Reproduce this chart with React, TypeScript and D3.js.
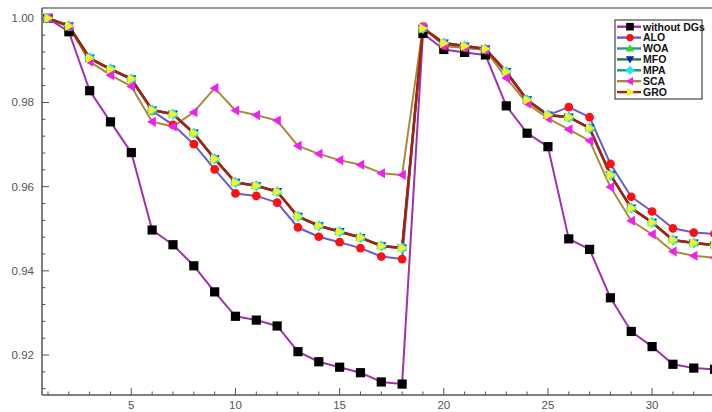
import React, { useEffect, useRef } from 'react';
import * as d3 from 'd3';

const buses = d3.range(1, 34);

const withoutDGs = [1.0, 0.9968, 0.9828, 0.9754, 0.9681, 0.9497, 0.9462, 0.9412, 0.935, 0.9292, 0.9283,
  0.9269, 0.9208, 0.9184, 0.9171, 0.9158, 0.9136, 0.9131, 0.9964, 0.9926, 0.9919, 0.9913,
  0.9792, 0.9727, 0.9695, 0.9476, 0.9451, 0.9336, 0.9256, 0.922, 0.9178, 0.9169, 0.9166];

const alo = [1.0, 0.998, 0.9905, 0.9878, 0.9855, 0.978, 0.9747, 0.9701, 0.9641, 0.9584, 0.9578,
  0.9562, 0.9503, 0.9481, 0.9468, 0.9454, 0.9434, 0.9428, 0.998, 0.9935, 0.993, 0.9925,
  0.987, 0.9805, 0.977, 0.9789, 0.9765, 0.9654, 0.9576, 0.9541, 0.9501, 0.9491, 0.9488];

const woa = [1.0, 0.9982, 0.9906, 0.988, 0.9857, 0.9783, 0.9773, 0.9728, 0.9667, 0.9611, 0.9603,
  0.9589, 0.953, 0.9508, 0.9494, 0.948, 0.946, 0.9455, 0.9977, 0.9942, 0.9935, 0.9928,
  0.9874, 0.9807, 0.9771, 0.9766, 0.974, 0.9629, 0.955, 0.9516, 0.9474, 0.9467, 0.9462];

const mfo = [1.0, 0.9982, 0.9905, 0.9879, 0.9856, 0.9782, 0.9772, 0.9727, 0.9666, 0.961, 0.9602,
  0.9588, 0.9529, 0.9507, 0.9493, 0.9479, 0.9459, 0.9454, 0.9976, 0.9941, 0.9934, 0.9927,
  0.9873, 0.9806, 0.977, 0.9765, 0.9739, 0.9628, 0.9549, 0.9515, 0.9473, 0.9466, 0.9461];

const mpa = [1.0, 0.9982, 0.9906, 0.988, 0.9856, 0.9782, 0.9772, 0.9727, 0.9666, 0.961, 0.9602,
  0.9588, 0.9529, 0.9507, 0.9493, 0.9479, 0.9459, 0.9454, 0.9976, 0.9941, 0.9934, 0.9927,
  0.9873, 0.9806, 0.977, 0.9765, 0.9739, 0.9628, 0.9549, 0.9515, 0.9473, 0.9466, 0.9461];

const sca = [1.0, 0.998, 0.9897, 0.9865, 0.9838, 0.9754, 0.9743, 0.9777, 0.9834, 0.9781, 0.977,
  0.9757, 0.9697, 0.9678, 0.9663, 0.9652, 0.9632, 0.9628, 0.998, 0.9935, 0.993, 0.9925,
  0.9858, 0.9798, 0.9762, 0.9736, 0.9709, 0.9599, 0.9519, 0.9487, 0.9446, 0.9436, 0.9431];

const gro = [1.0, 0.9982, 0.9905, 0.9879, 0.9856, 0.9782, 0.9772, 0.9727, 0.9666, 0.961, 0.9602,
  0.9588, 0.9529, 0.9507, 0.9493, 0.9479, 0.9459, 0.9454, 0.9976, 0.9941, 0.9934, 0.9927,
  0.9873, 0.9806, 0.977, 0.9765, 0.9739, 0.9628, 0.9549, 0.9515, 0.9473, 0.9466, 0.9461];

const xTicks = [5, 10, 15, 20, 25, 30];
const yTicks = [0.92, 0.94, 0.96, 0.98, 1.0];

const series = [
  { name: 'without DGs', values: withoutDGs, line: '#a030b0', fill: '#000000', marker: 'square', lw: 2 },
  { name: 'ALO', values: alo, line: '#6a5ad0', fill: '#ff1010', marker: 'circle', lw: 2 },
  { name: 'WOA', values: woa, line: '#2f8f9a', fill: '#20e020', marker: 'up', lw: 2 },
  { name: 'MFO', values: mfo, line: '#1f7a4a', fill: '#1020c0', marker: 'down', lw: 2 },
  { name: 'MPA', values: mpa, line: '#14a070', fill: '#20e8f0', marker: 'diamond', lw: 2 },
  { name: 'SCA', values: sca, line: '#a88a3a', fill: '#f020f0', marker: 'left', lw: 2 },
  { name: 'GRO', values: gro, line: '#a82010', fill: '#f8f020', marker: 'right', lw: 2.6 },
];

const markerPath = (type, s) => {
  switch (type) {
    case 'square': return `M${-s},${-s}h${2 * s}v${2 * s}h${-2 * s}Z`;
    case 'up': return `M0,${-s * 1.1}L${s * 1.1},${s * 0.8}L${-s * 1.1},${s * 0.8}Z`;
    case 'down': return `M0,${s * 1.1}L${s * 1.1},${-s * 0.8}L${-s * 1.1},${-s * 0.8}Z`;
    case 'left': return `M${-s * 1.1},0L${s * 0.8},${-s * 1.1}L${s * 0.8},${s * 1.1}Z`;
    case 'right': return `M${s * 1.1},0L${-s * 0.8},${-s * 1.1}L${-s * 0.8},${s * 1.1}Z`;
    case 'diamond': return `M0,${-s * 1.2}L${s * 1.2},0L0,${s * 1.2}L${-s * 1.2},0Z`;
    default: return '';
  }
};

const drawMarker = (g, type, cx, cy, fill, s) => {
  if (type === 'circle') {
    g.append('circle').attr('cx', cx).attr('cy', cy).attr('r', s * 0.95).attr('fill', fill);
  } else {
    g.append('path').attr('d', markerPath(type, s))
      .attr('transform', `translate(${cx},${cy})`).attr('fill', fill);
  }
};

export default function App() {
  const svgRef = useRef(null);

  const width = 712;
  const height = 412;

  useEffect(() => {
    const svg = d3.select(svgRef.current);
    svg.selectAll('*').remove();

    const x = d3.scaleLinear().domain([0.712, 33.5]).range([42, 725]);
    const y = d3.scaleLinear().domain([0.9105, 1.00245]).range([395, 8]);

    const font = 'Arial, "Liberation Sans", sans-serif';

    // frame: top border + left/bottom axes
    svg.append('line').attr('x1', 42).attr('x2', width).attr('y1', 8).attr('y2', 8)
      .attr('stroke', '#777').attr('stroke-width', 1.5);
    svg.append('line').attr('x1', 42).attr('x2', 42).attr('y1', 8).attr('y2', 395)
      .attr('stroke', '#555').attr('stroke-width', 1.5);
    svg.append('line').attr('x1', 42).attr('x2', width).attr('y1', 395).attr('y2', 395)
      .attr('stroke', '#555').attr('stroke-width', 1.5);

    // x ticks (inward)
    const xMinor = d3.range(1, 34);
    svg.append('g').selectAll('line').data(xMinor).enter().append('line')
      .attr('x1', d => x(d)).attr('x2', d => x(d))
      .attr('y1', 395).attr('y2', d => xTicks.includes(d) ? 388 : 391.5)
      .attr('stroke', '#555').attr('stroke-width', 1);
    svg.append('g').selectAll('text').data(xTicks).enter().append('text')
      .attr('x', d => x(d)).attr('y', 409).attr('text-anchor', 'middle')
      .attr('font-family', font).attr('font-size', 11.5).attr('fill', '#555')
      .text(d => d);

    // y ticks (inward)
    const yMinor = d3.range(0, 23).map(i => 0.912 + i * 0.004);
    svg.append('g').selectAll('line').data(yMinor).enter().append('line')
      .attr('x1', 42).attr('x2', (d, i) => (i % 5 === 2 ? 49 : 45.5))
      .attr('y1', d => y(d)).attr('y2', d => y(d))
      .attr('stroke', '#555').attr('stroke-width', 1);
    svg.append('g').selectAll('text').data(yTicks).enter().append('text')
      .attr('x', 34).attr('y', d => y(d) + 4).attr('text-anchor', 'end')
      .attr('font-family', font).attr('font-size', 11.5).attr('fill', '#555')
      .text(d => d.toFixed(2));

    const line = d3.line().x((d, i) => x(buses[i])).y(d => y(d));

    const plot = svg.append('g');
    series.forEach(s => {
      plot.append('path').datum(s.values).attr('d', line)
        .attr('fill', 'none').attr('stroke', s.line).attr('stroke-width', s.lw)
        .attr('stroke-linejoin', 'round');
    });
    series.forEach(s => {
      const mg = plot.append('g');
      s.values.forEach((v, i) => drawMarker(mg, s.marker, x(buses[i]), y(v), s.fill, 4.6));
    });

    // legend
    const lg = svg.append('g');
    lg.append('rect').attr('x', 615).attr('y', 20).attr('width', 87).attr('height', 79)
      .attr('fill', '#fff').attr('stroke', '#222').attr('stroke-width', 1);
    series.forEach((s, i) => {
      const cy = 26.7 + i * 10.9;
      lg.append('line').attr('x1', 617).attr('x2', 641).attr('y1', cy).attr('y2', cy)
        .attr('stroke', s.line).attr('stroke-width', 2.4);
      drawMarker(lg, s.marker, 630, cy, s.fill, 3.8);
      lg.append('text').attr('x', 643).attr('y', cy + 3.8)
        .attr('font-family', font).attr('font-size', 10.5).attr('font-weight', 'bold')
        .attr('fill', '#111').text(s.name);
    });
  }, []);

  return (
    <div style={{ position: 'absolute', left: 0, top: 0 }}>
      <svg ref={svgRef} width={width} height={height} style={{ display: 'block', background: '#fff' }}></svg>
    </div>
  );
}
